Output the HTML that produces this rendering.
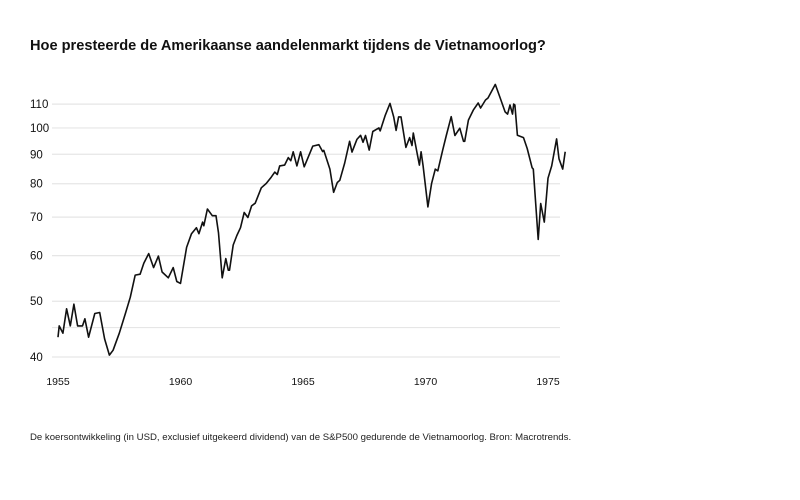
<!DOCTYPE html>
<html><head><meta charset="utf-8"><style>
body{margin:0;background:#fff;font-family:"Liberation Sans",sans-serif;}
#wrap{position:relative;width:800px;height:500px;overflow:hidden;}
h1{position:absolute;left:30px;top:38px;margin:0;font-size:14.6px;font-weight:bold;color:#111;}
#note{position:absolute;left:30px;top:432px;font-size:9.6px;color:#222;}
</style></head><body>
<div id="wrap">
<h1>Hoe presteerde de Amerikaanse aandelenmarkt tijdens de Vietnamoorlog?</h1>
<svg id="chart" width="800" height="500" style="position:absolute;left:0;top:0"></svg>
<div id="note">De koersontwikkeling (in USD, exclusief uitgekeerd dividend) van de S&amp;P500 gedurende de Vietnamoorlog. Bron: Macrotrends.</div>
</div>
<script>
const years=[1955.0,1955.05,1955.2,1955.35,1955.5,1955.65,1955.8,1956.0,1956.1,1956.25,1956.5,1956.7,1956.9,1957.1,1957.25,1957.5,1957.75,1957.95,1958.15,1958.35,1958.5,1958.7,1958.9,1959.1,1959.25,1959.5,1959.7,1959.85,1960.0,1960.25,1960.45,1960.65,1960.75,1960.9,1960.95,1961.1,1961.3,1961.45,1961.55,1961.7,1961.85,1961.95,1962.0,1962.15,1962.3,1962.45,1962.6,1962.75,1962.9,1963.05,1963.1,1963.3,1963.5,1963.7,1963.85,1963.95,1964.05,1964.25,1964.4,1964.5,1964.6,1964.75,1964.9,1965.05,1965.4,1965.65,1965.8,1965.85,1966.1,1966.25,1966.4,1966.5,1966.7,1966.9,1967.0,1967.2,1967.35,1967.45,1967.55,1967.7,1967.85,1968.1,1968.15,1968.35,1968.55,1968.7,1968.8,1968.9,1969.0,1969.2,1969.35,1969.45,1969.5,1969.65,1969.75,1969.82,1969.9,1970.1,1970.25,1970.4,1970.5,1970.7,1970.85,1971.05,1971.2,1971.4,1971.55,1971.6,1971.75,1971.95,1972.15,1972.25,1972.45,1972.55,1972.85,1973.05,1973.25,1973.35,1973.45,1973.55,1973.6,1973.65,1973.75,1974.0,1974.15,1974.35,1974.4,1974.6,1974.7,1974.85,1975.0,1975.15,1975.35,1975.45,1975.6,1975.7];
const values=[43.3,45.3,44,48.5,45.3,49.4,45.3,45.3,46.6,43.3,47.6,47.8,43.0,40.3,41.1,44.0,47.6,50.8,55.5,55.7,58.2,60.5,57.2,59.9,56.2,54.9,57.2,54.1,53.7,62.0,65.5,67.1,65.5,68.6,67.6,72.3,70.4,70.4,65.7,54.9,59.3,56.6,56.6,62.6,65.0,67.1,71.3,69.9,73.2,74.0,74.9,78.7,80.1,82.1,83.8,83.0,85.9,86.2,88.8,87.7,90.9,85.9,90.9,85.6,93.0,93.5,91.0,91.4,84.8,77.3,80.4,81.1,86.9,94.8,90.8,95.5,97.1,94.4,97,91.5,98.6,100,98.8,105,110.3,104.5,99,104.5,104.5,92.5,96.2,93.2,98,90.8,86.2,90.9,85.9,72.9,80.1,84.8,84.2,91.5,97,104.6,97,99.9,94.8,94.8,103.2,107.4,110.5,108.3,111.8,112.7,119,112.7,106.6,105.7,109.6,105.7,110,109.6,97.1,96.2,92.1,85.3,84.8,64.0,73.9,68.6,81.8,85.9,95.7,88.4,84.8,90.9];
const yTicks=[40,45,50,60,70,80,90,100,110];
const yTickLabels=["40","","50","60","70","80","90","100","110"];
const xTicks=[1955,1960,1965,1970,1975];
const xTickLabels=["1955","1960","1965","1970","1975"];
const NS="http://www.w3.org/2000/svg";
const svg=document.getElementById('chart');
const xS=y=>58+(y-1955)*24.5;
const yS=v=>357-Math.log(v/40)*250;
function mk(t,a){const e=document.createElementNS(NS,t);for(const k in a)e.setAttribute(k,a[k]);svg.appendChild(e);return e;}
yTicks.forEach((v,i)=>{
  const l=mk('line',{x1:52,x2:560,y1:yS(v),y2:yS(v),stroke:'#e6e6e6','stroke-width':1.2});
  
  
  if(yTickLabels[i]){
    const t=mk('text',{x:30,y:yS(v)+4,'font-size':11.5,fill:'#111','font-family':'Liberation Sans, sans-serif'});
    t.textContent=yTickLabels[i];
    
    
  }
});
xTicks.forEach((v,i)=>{
  const t=mk('text',{x:xS(v),y:385,'font-size':10.5,fill:'#111','text-anchor':'middle','font-family':'Liberation Sans, sans-serif'});
  t.textContent=xTickLabels[i];
  
  
});
const d=years.map((y,i)=>(i?'L':'M')+xS(y).toFixed(1)+','+yS(values[i]).toFixed(1)).join(' ');
const p=mk('path',{d:d,fill:'none',stroke:'#111','stroke-width':1.6,'stroke-linejoin':'round'});


</script>
</body></html>
